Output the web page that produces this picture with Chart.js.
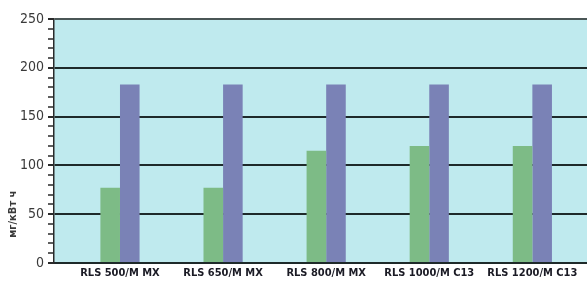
<!DOCTYPE html>
<html><head><meta charset="utf-8">
<script src="https://cdn.jsdelivr.net/npm/chart.js@4/dist/chart.umd.min.js"></script>
<style>html,body{margin:0;padding:0;background:#fff}#wrap{width:587px;height:281px}</style>
</head><body><div id="wrap"><canvas id="c" width="587" height="281"></canvas></div>
<script>
const categories = ["RLS 500/M MX", "RLS 650/M MX", "RLS 800/M MX", "RLS 1000/M C13", "RLS 1200/M C13"];
const greenValues = [77, 77, 115, 120, 120];
const blueValues = [183, 183, 183, 183, 183];
const yTickLabels = [0, 50, 100, 150, 200, 250];
const yTitle = "мг/кВт ч";

const FONT = "'DejaVu Sans Condensed', 'Liberation Sans Narrow', 'Liberation Sans', sans-serif";

const bgPlugin = {
  id: 'bg',
  beforeDraw(chart) {
    const {ctx, chartArea: a} = chart;
    ctx.save();
    ctx.fillStyle = '#bfeaee';
    ctx.fillRect(a.left, a.top, a.right - a.left, a.bottom - a.top);
    ctx.restore();
  },
  afterDraw(chart) {
    const {ctx} = chart;
    const ys = chart.scales.y;
    ctx.save();
    ctx.translate(13, ys.getPixelForValue(50));
    ctx.rotate(-Math.PI / 2);
    ctx.fillStyle = '#3a3a3a';
    ctx.font = "bold 11px " + FONT;
    ctx.textAlign = 'center';
    ctx.textBaseline = 'middle';
    ctx.fillText(yTitle, 0, 0);
    ctx.restore();
  }
};

new Chart(document.getElementById('c'), {
  type: 'bar',
  data: {
    datasets: [
      { data: greenValues.map((v, i) => ({x: i, y: v})), backgroundColor: '#7dbb86', borderWidth: 0 },
      { data: blueValues.map((v, i) => ({x: i, y: v})), backgroundColor: '#7a82b6', borderWidth: 0 }
    ]
  },
  plugins: [bgPlugin],
  options: {
    responsive: false,
    animation: false,
    devicePixelRatio: 1,
    layout: { padding: { top: 19, right: 0, left: 0, bottom: 0 } },
    categoryPercentage: 0.38,
    barPercentage: 1,
    plugins: { legend: { display: false }, tooltip: { enabled: false }, title: { display: false } },
    scales: {
      x: {
        type: 'linear',
        offset: false,
        min: -0.64,
        max: 4.53,
        afterBuildTicks: axis => { axis.ticks = categories.map((c, i) => ({value: i})); },
        afterFit: s => { s.height = 18; },
        grid: { display: false, drawTicks: false },
        border: { display: true, color: '#1e2a2a', width: 2 },
        ticks: {
          autoSkip: false, maxRotation: 0, padding: 4,
          color: '#1a1a24',
          font: { family: FONT, size: 11, weight: 'bold' },
          callback: v => categories[v]
        }
      },
      y: {
        min: 0, max: 250,
        afterBuildTicks: axis => {
          const t = [];
          for (let v = 0; v <= 250; v += 10) t.push({value: v});
          axis.ticks = t;
        },
        afterFit: s => { s.width = 54; },
        grid: {
          color: c => (c.tick && c.tick.value % 50 === 0) ? (c.tick.value === 250 ? '#4a5656' : '#1e2a2a') : 'rgba(0,0,0,0)',
          lineWidth: 2,
          tickColor: '#2a2a2a',
          tickWidth: c => (c.tick && c.tick.value % 50 === 0) ? 2 : 1.5,
          tickLength: 6
        },
        border: { display: true, color: '#2a2a2a', width: 1.5 },
        ticks: {
          autoSkip: false,
          padding: 4,
          color: '#3a3a3a',
          font: { family: FONT, size: 14 },
          callback: v => yTickLabels.includes(v) ? String(v) : ''
        }
      }
    }
  }
});
</script></body></html>
